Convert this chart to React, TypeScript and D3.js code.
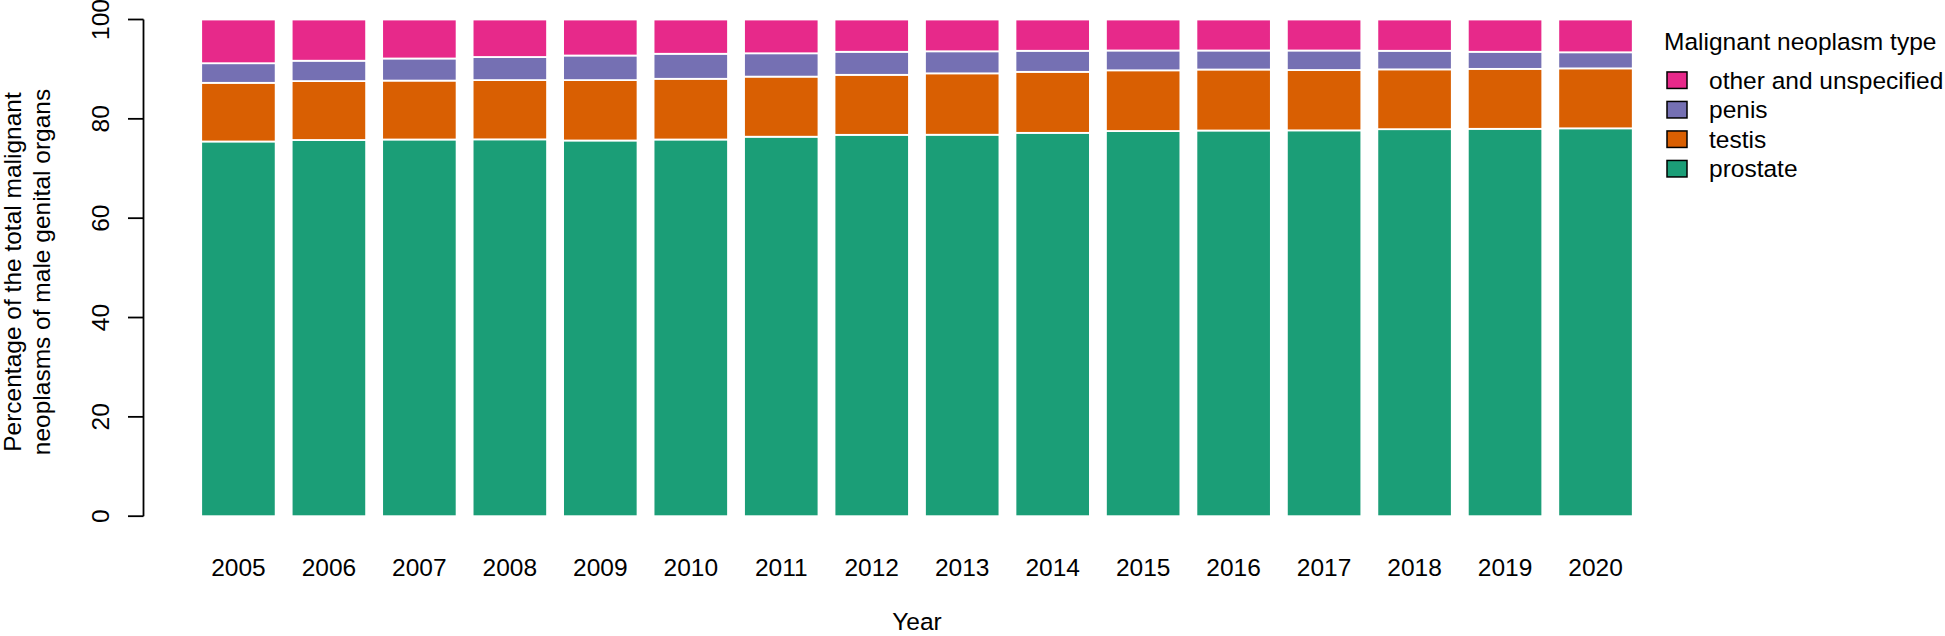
import React from "react";
import * as d3 from "d3";

const years = ["2005","2006","2007","2008","2009","2010","2011","2012","2013","2014","2015","2016","2017","2018","2019","2020"];
const prostate = [75.44,75.74,75.84,75.87,75.64,75.84,76.40,76.78,76.80,77.18,77.55,77.65,77.68,77.92,77.99,78.09];
const testis   = [11.81,11.86,11.86,11.93,12.16,12.22,12.10,12.08,12.36,12.28,12.22,12.28,12.15,12.04,12.07,12.07];
const penis    = [3.95,4.10,4.45,4.65,4.95,5.04,4.70,4.64,4.44,4.24,3.99,3.83,3.93,3.74,3.44,3.24];
const other    = [8.80,8.30,7.85,7.55,7.25,6.90,6.80,6.50,6.40,6.30,6.24,6.24,6.24,6.30,6.50,6.60];

const seriesKeys = ["prostate","testis","penis","other"];
const seriesLabels = ["prostate","testis","penis","other and unspecified"];
const seriesColors = ["#1B9E77","#D95F02","#7570B3","#E7298A"];
const yTicks = [0,20,40,60,80,100];

const FONT = "'Liberation Sans', Arial, Helvetica, sans-serif";
const FS = 24.5;

export default function App() {
  const W = 1945, H = 636;
  const rows = years.map((y, i) => ({
    year: y,
    prostate: prostate[i],
    testis: testis[i],
    penis: penis[i],
    other: other[i],
  }));
  const stacked = d3.stack<any>().keys(seriesKeys)(rows);

  const x = d3.scaleBand<string>().domain(years).range([201.2, 1632.75]).paddingInner(0.177).paddingOuter(0);
  const y = d3.scaleLinear().domain([0, 100]).range([516.2, 19.5]);

  const axisX = 143.5;
  const legendX = 1667;
  const legendRowY = (i: number) => 80.2 + i * 29.5;
  const legendOrder = [3, 2, 1, 0];

  return (
    <svg width={W} height={H} style={{ position: "absolute", left: 0, top: 0, display: "block", background: "#fff" }} fontFamily={FONT}>
      {/* bars */}
      {stacked.map((s, si) => (
        <g key={seriesKeys[si]} fill={seriesColors[si]}>
          {s.map((d: any, i: number) => (
            <rect
              key={i}
              x={x(years[i])}
              width={x.bandwidth()}
              y={y(d[1])}
              height={y(d[0]) - y(d[1])}
              stroke="#ffffff"
              strokeWidth={1.8}
            />
          ))}
        </g>
      ))}

      {/* y axis */}
      <line x1={axisX} x2={axisX} y1={y(0)} y2={y(100)} stroke="#000" strokeWidth={1.8} />
      {yTicks.map((t) => (
        <g key={t}>
          <line x1={axisX - 15.5} x2={axisX} y1={y(t)} y2={y(t)} stroke="#000" strokeWidth={1.8} />
          <text
            transform={`translate(108.5, ${y(t)}) rotate(-90)`}
            textAnchor="middle"
            fontSize={FS}
            fill="#000"
          >
            {t}
          </text>
        </g>
      ))}

      {/* x tick labels */}
      {years.map((yr) => (
        <text key={yr} x={(x(yr) as number) + x.bandwidth() / 2} y={576} textAnchor="middle" fontSize={FS} fill="#000">
          {yr}
        </text>
      ))}

      {/* axis titles */}
      <text x={917} y={630} textAnchor="middle" fontSize={FS} fill="#000">Year</text>
      <g transform="translate(0, 272) rotate(-90)">
        <text x={0} y={20.5} textAnchor="middle" fontSize={FS} fill="#000">Percentage of the total malignant</text>
        <text x={0} y={50} textAnchor="middle" fontSize={FS} fill="#000">neoplasms of male genital organs</text>
      </g>

      {/* legend */}
      <text x={1664} y={50} fontSize={FS} fill="#000">Malignant neoplasm type</text>
      {legendOrder.map((si, r) => (
        <g key={si}>
          <rect x={legendX} y={legendRowY(r) - 8.25} width={20} height={16.5} fill={seriesColors[si]} stroke="#000" strokeWidth={1.5} />
          <text x={1709} y={legendRowY(r) + 8.6} fontSize={FS} fill="#000">{seriesLabels[si]}</text>
        </g>
      ))}
    </svg>
  );
}
